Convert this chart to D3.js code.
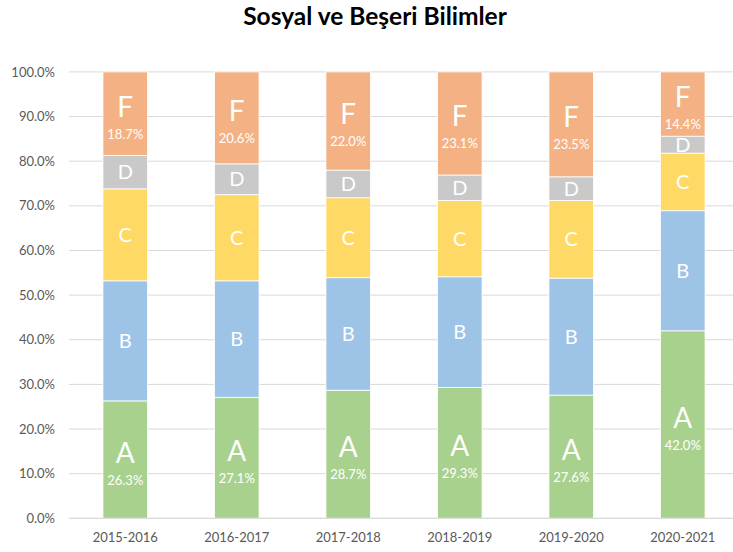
<!DOCTYPE html>
<html>
<head>
<meta charset="utf-8">
<script src="https://cdn.jsdelivr.net/npm/d3@7"></script>
<style>
  html, body { margin: 0; padding: 0; background: #fff; }
  svg { display: block; font-family: Lato, "Open Sans", sans-serif; }
</style>
</head>
<body>
<svg id="chart" width="733" height="552"></svg>
<script>
const years = ["2015-2016", "2016-2017", "2017-2018", "2018-2019", "2019-2020", "2020-2021"];
const seriesNames = ["A", "B", "C", "D", "F"];
const valuesA = [26.3, 27.1, 28.7, 29.3, 27.6, 42.0];
const valuesB = [26.9, 26.1, 25.2, 24.8, 26.2, 26.9];
const valuesC = [20.6, 19.3, 17.9, 17.1, 17.4, 12.9];
const valuesD = [7.5, 6.9, 6.2, 5.7, 5.3, 3.8];
const valuesF = [18.7, 20.6, 22.0, 23.1, 23.5, 14.4];
const colors = ["#A9D18E", "#9DC3E6", "#FFD966", "#C9C9C9", "#F4B183"];
const yTicks = [0, 0.1, 0.2, 0.3, 0.4, 0.5, 0.6, 0.7, 0.8, 0.9, 1.0];
const valueLabelSeries = ["A", "F"];
const title = "Sosyal ve Beşeri Bilimler";

const seriesValues = [valuesA, valuesB, valuesC, valuesD, valuesF];
const rows = years.map((y, i) => {
  const r = { year: y };
  seriesNames.forEach((s, k) => r[s] = seriesValues[k][i] / 100);
  return r;
});

const svg = d3.select("#chart");
const x = d3.scaleBand().domain(years).range([69.5, 738.5]).paddingInner(0.6).paddingOuter(0.3);
const y = d3.scaleLinear().domain([0, 1]).range([518.3, 71.9]);
const color = d3.scaleOrdinal().domain(seriesNames).range(colors);

// title
svg.append("text")
  .attr("x", 375).attr("y", 25)
  .attr("text-anchor", "middle")
  .attr("font-size", 24.5).attr("font-weight", "bold")
  .attr("fill", "#000")
  .text(title);

// gridlines
svg.append("g")
  .selectAll("line")
  .data(yTicks)
  .join("line")
  .attr("x1", 69).attr("x2", 740)
  .attr("y1", d => y(d)).attr("y2", d => y(d))
  .attr("stroke", "#d9d9d9").attr("stroke-width", 1);

// y axis labels
const yAxis = d3.axisLeft(y).tickValues(yTicks).tickFormat(d3.format(".1%")).tickSize(0).tickPadding(0);
svg.append("g")
  .attr("transform", "translate(55,0)")
  .call(yAxis)
  .call(g => g.select(".domain").remove())
  .call(g => g.selectAll("text").attr("fill", "#595959").attr("font-size", 13)
    .attr("font-family", "Lato, 'Open Sans', sans-serif"));

// x axis labels
const xAxis = d3.axisBottom(x).tickSize(0).tickPadding(0);
svg.append("g")
  .attr("transform", "translate(0,533)")
  .call(xAxis)
  .call(g => g.select(".domain").remove())
  .call(g => g.selectAll("text").attr("fill", "#595959").attr("font-size", 13)
    .attr("font-family", "Lato, 'Open Sans', sans-serif"));

// stacked bars
const stack = d3.stack().keys(seriesNames)(rows);
const layers = svg.append("g").selectAll("g")
  .data(stack)
  .join("g")
  .attr("fill", d => color(d.key));

layers.selectAll("rect")
  .data(d => d.map(p => Object.assign(p, { key: d.key })))
  .join("rect")
  .attr("x", d => x(d.data.year))
  .attr("width", x.bandwidth())
  .attr("y", d => y(d[1]))
  .attr("height", d => y(d[0]) - y(d[1]))
  .attr("stroke", "#fff").attr("stroke-width", 0.8);

// axis baseline
svg.append("line")
  .attr("x1", 69).attr("x2", 740)
  .attr("y1", y(0)).attr("y2", y(0))
  .attr("stroke", "#d9d9d9").attr("stroke-width", 1);

// labels
const labels = svg.append("g").attr("fill", "#fff").attr("text-anchor", "middle");
stack.forEach(layer => {
  layer.forEach(p => {
    const cx = x(p.data.year) + x.bandwidth() / 2;
    const cy = (y(p[0]) + y(p[1])) / 2;
    if (valueLabelSeries.includes(layer.key)) {
      labels.append("text")
        .attr("x", cx).attr("y", cy + 3)
        .attr("font-size", 28)
        .text(layer.key);
      labels.append("text")
        .attr("x", cx).attr("y", cy + 25)
        .attr("font-size", 13)
        .text(d3.format(".1%")(p[1] - p[0]));
    } else {
      labels.append("text")
        .attr("x", cx).attr("y", cy + 7)
        .attr("font-size", 20)
        .text(layer.key);
    }
  });
});
</script>
</body>
</html>
